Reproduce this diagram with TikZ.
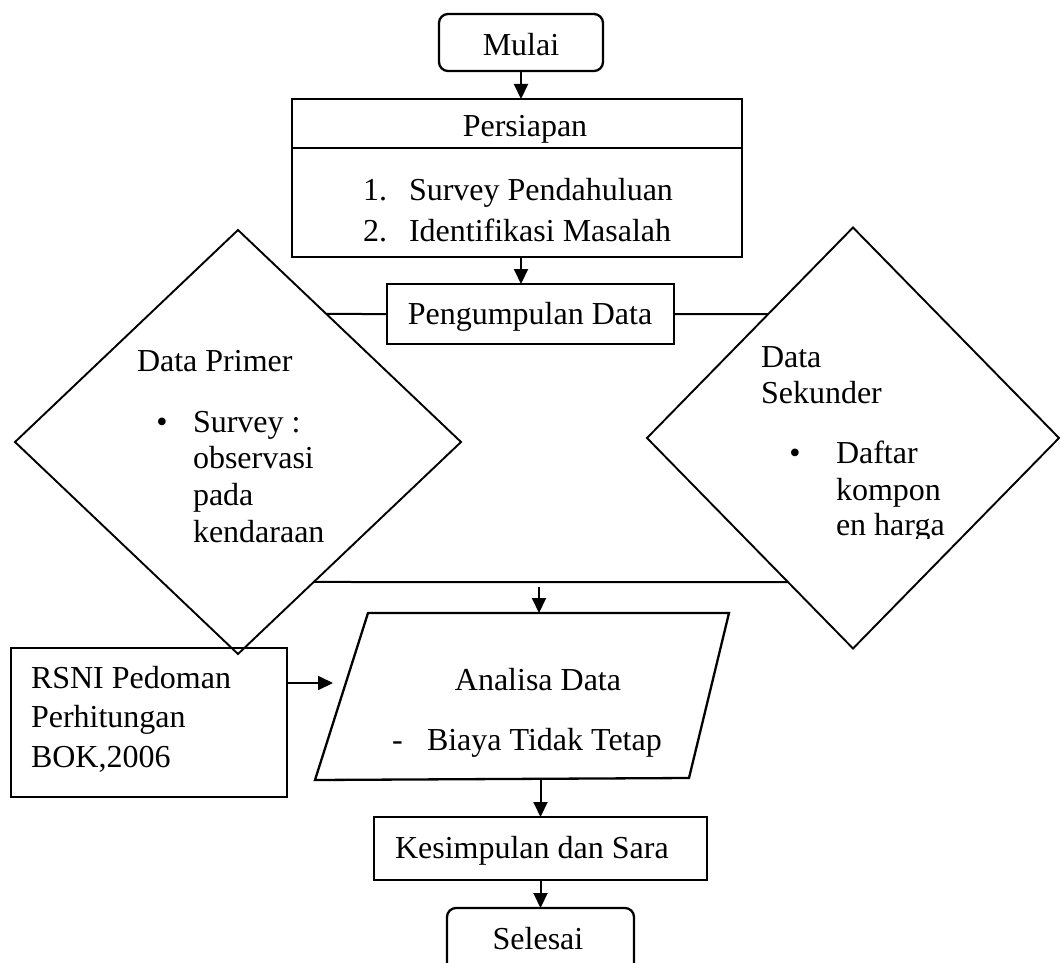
\documentclass[tikz,border=0pt]{standalone}
\usepackage{fontspec}
\setmainfont{Liberation Serif}
\usetikzlibrary{arrows.meta,shapes.geometric}
\begin{document}
\begin{tikzpicture}[x=1pt,y=-1pt,
  every node/.style={font=\fontsize{32}{37}\selectfont, inner sep=0pt, outer sep=0pt},
  ln/.style={line width=2pt},
  arr/.style={ln,-{Triangle[length=15pt,width=14pt]}},
  box/.style={draw,line width=2.3pt,rectangle,inner sep=0pt},
  term/.style={box,rounded corners=9pt},
  dia/.style={draw,line width=1.9pt,diamond,inner sep=0pt},
  lt/.style={anchor=base west},
  ct/.style={anchor=base}
]
\useasboundingbox (0,0) rectangle (1060,963);
\clip (0,0) rectangle (1060,963);

% shapes
\node[term, minimum width=164pt, minimum height=57pt] (mulai) at (521,42.5) {};
\node[box, minimum width=450pt, minimum height=158pt] (pers) at (517,178) {};
\coordinate (divy) at (0,148);
\draw[line width=2.3pt] (pers.west |- divy) -- (pers.east |- divy);
\node[box, minimum width=287pt, minimum height=60pt] (peng) at (530.5,314) {};
\node[dia, minimum width=446pt, minimum height=424pt] (dl) at (238,442) {};
\node[dia, minimum width=412pt, minimum height=421pt] (dr) at (853,438) {};
\coordinate (anTL) at (368,613);
\coordinate (anTR) at (729,613);
\coordinate (anBR) at (689,778);
\coordinate (anBL) at (315,780);
\draw[line width=2.3pt] (anTL) -- (anTR) -- (anBR) -- (anBL) -- cycle;
\node[box, minimum width=276pt, minimum height=149pt] (rsni) at (149,722.5) {};
\node[box, minimum width=333pt, minimum height=63pt] (kes) at (540.5,848.5) {};
\node[term, minimum width=187pt, minimum height=90pt] (sel) at (540.5,953) {};

% texts
\node[ct] (tMulai) at (521,56) {Mulai};
\node[ct] (tPers) at (525,137) {Persiapan};
\node[lt] (tN1) at (363,200) {1.};
\node[lt] (tI1) at (409,200) {Survey Pendahuluan};
\node[lt] (tN2) at (363,241) {2.};
\node[lt] (tI2) at (409,241) {Identifikasi Masalah};
\node[ct] (tPeng) at (530,324) {Pengumpulan Data};
\node[lt] (tDP) at (137,371) {Data Primer};
\node[ct] (tB1) at (162,432) {•};
\node[lt] (tP1) at (193,432) {Survey :};
\node[lt] (tP2) at (193,468) {observasi};
\node[lt] (tP3) at (193,505) {pada};
\node[lt] (tP4) at (193,542) {kendaraan};
\node[lt] (tDS1) at (761,367) {Data};
\node[lt] (tDS2) at (761,403) {Sekunder};
\node[ct] (tB2) at (795,463) {•};
\node[lt] (tS1) at (836,463) {Daftar};
\node[lt] (tS2) at (836,500) {kompon};
\begin{scope}
\clip (820,500) rectangle (1000,538);
\node[lt] (tS3) at (836,535) {en harga};
\end{scope}
\node[ct] (tAn) at (538,690) {Analisa Data};
\node[lt] (tDash) at (392,750) {-};
\node[lt] (tBiaya) at (427,750) {Biaya Tidak Tetap};
\node[lt] (tR1) at (31,688) {RSNI Pedoman};
\node[lt] (tR2) at (31,727) {Perhitungan};
\node[lt] (tR3) at (31,767) {BOK,2006};
\node[lt] (tKes) at (395,858) {Kesimpulan dan Sara};
\node[ct] (tSel) at (538,949) {Selesai};

% connectors
\draw[arr] (mulai.south) -- (mulai.south |- pers.north);
\draw[arr] (mulai.south |- pers.south) -- (mulai.south |- peng.north);
\draw[ln] (peng.west) -- (intersection of peng.west--peng.east and dl.north--dl.east);
\draw[ln] (peng.east) -- (intersection of peng.west--peng.east and dr.north--dr.west);
\coordinate (join) at (539,582);
\coordinate (joinL) at (0,582);
\draw[ln] (intersection of join--joinL and dl.south--dl.east) -- (intersection of join--joinL and dr.south--dr.west);
\draw[arr] ([yshift=-5pt]join) -- (join |- anTL);
\coordinate (ra) at (333,683);
\draw[arr] (rsni.east |- ra) -- (ra);
\draw[arr] (kes.north |- anBR) -- (kes.north);
\draw[arr] (kes.south) -- (kes.south |- sel.north);
\end{tikzpicture}
\end{document}
